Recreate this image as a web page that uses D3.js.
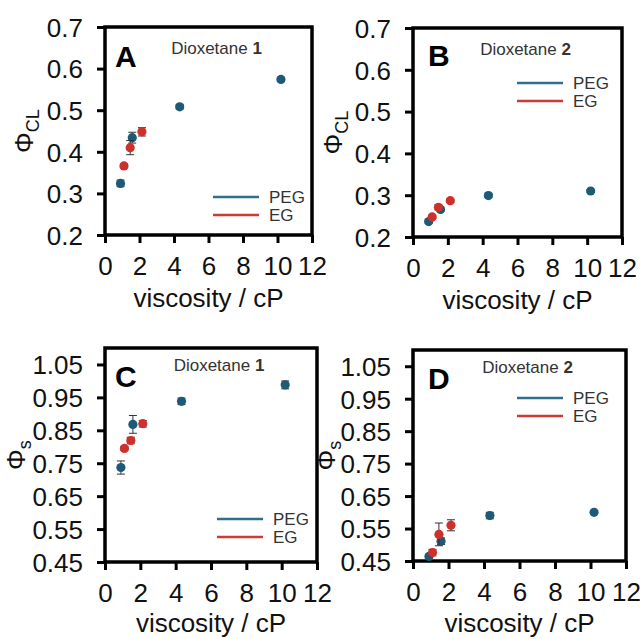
<!DOCTYPE html>
<html>
<head>
<meta charset="utf-8">
<script src="https://cdn.jsdelivr.net/npm/d3@7"></script>
<style>
  html, body { margin: 0; padding: 0; background: #fff; }
  svg { display: block; font-family: "Liberation Sans", Arial, sans-serif; }
  .tick-label { font-size: 26px; fill: #111; }
  .axis-title { font-size: 26px; fill: #111; }
  .panel-letter { font-size: 30px; font-weight: bold; fill: #000; }
  .dx-label { font-size: 17px; fill: #333; }
  .legend-text { font-size: 17px; fill: #333; }
</style>
</head>
<body>
<svg id="chart" width="640" height="639"></svg>
<script>
// ============ 数据 ============
// viscosity (cP) of the solvent mixtures
const pegVisc = [0.9, 1.58, 4.33, 10.2];
const egVisc = [1.1, 1.46, 2.14];

// A: Φ_CL, dioxetane 1
const pegCL1 = [0.324, 0.434, 0.508, 0.574];
const pegCL1Err = [0.008, 0.013, 0.005, 0.005];
const egCL1 = [0.366, 0.410, 0.448];
const egCL1Err = [0.005, 0.017, 0.010];

// B: Φ_CL, dioxetane 2
const pegCL2 = [0.237, 0.266, 0.299, 0.310];
const pegCL2Err = [0.004, 0.004, 0.004, 0.003];
const egCL2 = [0.248, 0.271, 0.287];
const egCL2Err = [0.004, 0.006, 0.004];

// C: Φ_S, dioxetane 1
const pegS1 = [0.737, 0.868, 0.938, 0.988];
const pegS1Err = [0.020, 0.027, 0.010, 0.012];
const egS1 = [0.795, 0.819, 0.870];
const egS1Err = [0.006, 0.010, 0.010];

// D: Φ_S, dioxetane 2
const pegS2 = [0.464, 0.511, 0.590, 0.600];
const pegS2Err = [0.006, 0.010, 0.010, 0.004];
const egS2 = [0.476, 0.532, 0.560];
const egS2Err = [0.010, 0.035, 0.017];

const xTicks = [0, 2, 4, 6, 8, 10, 12];
const clTicks = [0.2, 0.3, 0.4, 0.5, 0.6, 0.7];
const sTicks = [0.45, 0.55, 0.65, 0.75, 0.85, 0.95, 1.05];

const seriesNames = ['PEG', 'EG'];
const colors = { PEG: '#1d5a78', EG: '#d0302b' };
const legendColors = { PEG: '#2f6f8e', EG: '#cf3a36' };

// ============ 面板布局 ============
const panels = [
  { letter: 'A', dx: '1', sub: 'CL', left: 105, top: 27, w: 207, h: 208,
    yDomain: [0.2, 0.7], yTicks: clTicks, fmt: d3.format('.1f'),
    peg: pegCL1, pegErr: pegCL1Err, eg: egCL1, egErr: egCL1Err,
    legend: [108, 170], titleY: 307, yTitleX: -72 },
  { letter: 'B', dx: '2', sub: 'CL', left: 413, top: 28, w: 209, h: 209,
    yDomain: [0.2, 0.7], yTicks: clTicks, fmt: d3.format('.1f'),
    peg: pegCL2, pegErr: pegCL2Err, eg: egCL2, egErr: egCL2Err,
    legend: [104, 55], titleY: 309, yTitleX: -71 },
  { letter: 'C', dx: '1', sub: 's', left: 105, top: 348, w: 212, h: 214,
    yDomain: [0.45, 1.10], yTicks: sTicks, fmt: d3.format('.2f'),
    peg: pegS1, pegErr: pegS1Err, eg: egS1, egErr: egS1Err,
    legend: [112, 171], titleY: 632, yTitleX: -80 },
  { letter: 'D', dx: '2', sub: 's', left: 413, top: 350, w: 213, h: 211,
    yDomain: [0.45, 1.10], yTicks: sTicks, fmt: d3.format('.2f'),
    peg: pegS2, pegErr: pegS2Err, eg: egS2, egErr: egS2Err,
    legend: [104, 48], titleY: 632, yTitleX: -78 }
];

const svg = d3.select('#chart');

panels.forEach(p => {
  const g = svg.append('g').attr('transform', `translate(${p.left},${p.top})`);

  const x = d3.scaleLinear().domain([0, 12]).range([0, p.w]);
  const y = d3.scaleLinear().domain(p.yDomain).range([p.h, 0]);

  // 坐标轴
  const xAxis = g.append('g')
    .attr('transform', `translate(0,${p.h})`)
    .call(d3.axisBottom(x).tickValues(xTicks).tickSize(8).tickPadding(12).tickFormat(d3.format('d')));
  const yAxis = g.append('g')
    .call(d3.axisLeft(y).tickValues(p.yTicks).tickSize(8).tickPadding(14).tickFormat(p.fmt));

  [xAxis, yAxis].forEach(ax => {
    ax.select('.domain').remove();
    ax.selectAll('.tick line').attr('stroke', '#000').attr('stroke-width', 3);
    ax.selectAll('.tick text').attr('class', 'tick-label').attr('font-size', null).attr('font-family', null);
  });
  xAxis.selectAll('.tick text').attr('dy', '0.78em');
  yAxis.selectAll('.tick text').attr('dy', '0.36em');

  // 边框
  g.append('rect')
    .attr('width', p.w).attr('height', p.h)
    .attr('fill', 'none').attr('stroke', '#000').attr('stroke-width', 3.5);

  // 轴标题
  svg.append('text')
    .attr('class', 'axis-title')
    .attr('x', p.left + p.w / 2)
    .attr('y', p.titleY)
    .attr('text-anchor', 'middle')
    .text('viscosity / cP');

  const yt = svg.append('text')
    .attr('class', 'axis-title')
    .attr('transform', `translate(${p.left + p.yTitleX},${p.top + p.h * 0.5}) rotate(-90)`)
    .attr('text-anchor', 'middle');
  yt.append('tspan').text('Φ');
  yt.append('tspan').attr('font-size', 18).attr('dy', 6).text(p.sub);

  // 面板字母与标签
  g.append('text').attr('class', 'panel-letter')
    .attr('x', p.letter === 'A' || p.letter === 'C' ? 10 : 15)
    .attr('y', p.letter === 'A' ? 40 : (p.letter === 'B' ? 38 : 39))
    .text(p.letter);

  const lbl = g.append('text').attr('class', 'dx-label')
    .attr('x', p.w / 2 + 8)
    .attr('y', p.letter === 'A' || p.letter === 'B' ? 27 : 23)
    .attr('text-anchor', 'middle');
  lbl.append('tspan').text('Dioxetane ');
  lbl.append('tspan').attr('font-weight', 'bold').text(p.dx);

  // 图例
  seriesNames.forEach((name, i) => {
    const ly = p.legend[1] + i * 18;
    g.append('line')
      .attr('x1', p.legend[0]).attr('x2', p.legend[0] + 46)
      .attr('y1', ly).attr('y2', ly)
      .attr('stroke', legendColors[name]).attr('stroke-width', 2.5);
    g.append('text').attr('class', 'legend-text')
      .attr('x', p.legend[0] + 56).attr('y', ly + 6)
      .text(name);
  });

  // 数据点与误差线
  const series = [
    { name: 'PEG', xs: pegVisc, ys: p.peg, es: p.pegErr },
    { name: 'EG', xs: egVisc, ys: p.eg, es: p.egErr }
  ];
  series.forEach(s => {
    const pts = s.xs.map((v, i) => ({ x: v, y: s.ys[i], e: s.es[i] }));
    const eb = g.append('g').attr('stroke', '#333').attr('stroke-width', 1);
    pts.forEach(d => {
      const cx = x(d.x), y1 = y(d.y + d.e), y2 = y(d.y - d.e);
      eb.append('line').attr('x1', cx).attr('x2', cx).attr('y1', y1).attr('y2', y2);
      eb.append('line').attr('x1', cx - 4).attr('x2', cx + 4).attr('y1', y1).attr('y2', y1);
      eb.append('line').attr('x1', cx - 4).attr('x2', cx + 4).attr('y1', y2).attr('y2', y2);
    });
    g.append('g').selectAll('circle')
      .data(pts)
      .join('circle')
      .attr('cx', d => x(d.x))
      .attr('cy', d => y(d.y))
      .attr('r', 4.6)
      .attr('fill', colors[s.name]);
  });
});
</script>
</body>
</html>
